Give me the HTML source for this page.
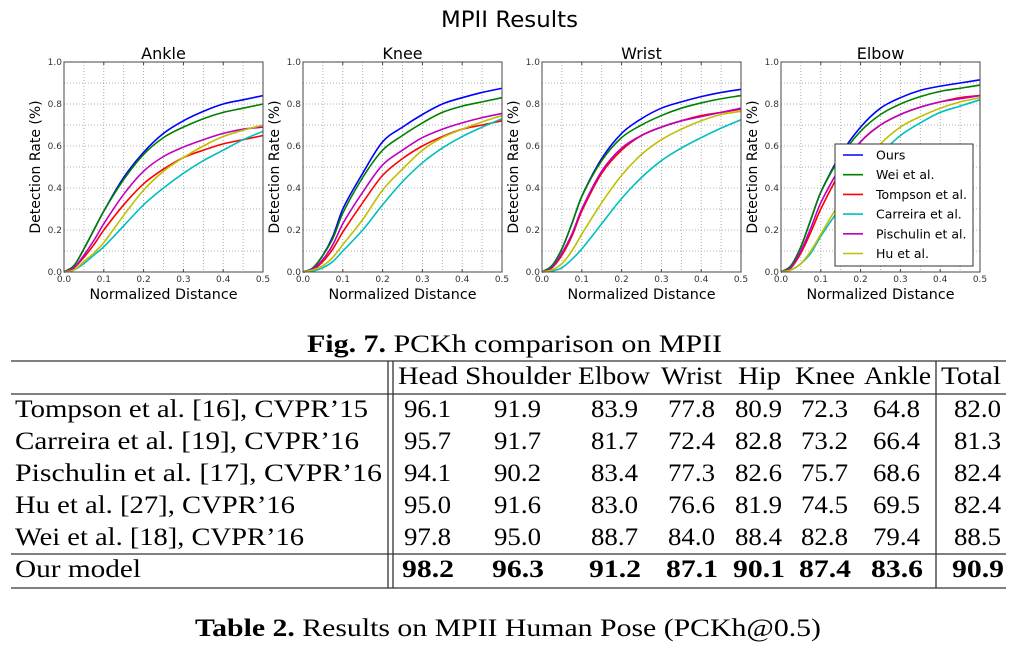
<!DOCTYPE html>
<html><head><meta charset="utf-8"><style>
body{margin:0;background:#fff;}
svg{display:block;}
.sans{font-family:"DejaVu Sans","Liberation Sans",sans-serif;}
.serif{font-family:"Liberation Serif",serif;}
</style></head><body>
<svg id="fig" width="1018" height="650" viewBox="0 0 1018 650" xmlns="http://www.w3.org/2000/svg">
<text class="sans" x="441" y="27" font-size="22" textLength="137" lengthAdjust="spacingAndGlyphs">MPII Results</text>
<g id="charts"></g>
<g id="legend">
<rect x="835" y="144" width="138" height="122" fill="#fff" stroke="#333" stroke-width="1"/>
</g>
<text class="serif" x="307" y="352" font-size="25" textLength="415" lengthAdjust="spacingAndGlyphs"><tspan font-weight="bold">Fig. 7.</tspan> PCKh comparison on MPII</text>
<text class="serif" x="195" y="636" font-size="25" textLength="626" lengthAdjust="spacingAndGlyphs"><tspan font-weight="bold">Table 2.</tspan> Results on MPII Human Pose (PCKh@0.5)</text>
<g id="table" stroke="#333" stroke-width="1.3">
<line x1="11" y1="361" x2="1006" y2="361"/>
<line x1="11" y1="394" x2="1006" y2="394"/>
<line x1="11" y1="554" x2="1006" y2="554"/>
<line x1="11" y1="588" x2="1006" y2="588"/>
<line x1="388" y1="361" x2="388" y2="588"/>
<line x1="393" y1="361" x2="393" y2="588"/>
<line x1="936" y1="361" x2="936" y2="588"/>
</g>
<g id="tabletext" class="serif" font-size="25"></g>
</svg>
<script>
const NS="http://www.w3.org/2000/svg";
const xs=[0,0.025,0.05,0.075,0.1,0.15,0.2,0.25,0.3,0.35,0.4,0.45,0.5];
const methods=["Ours","Wei et al.","Tompson et al.","Carreira et al.","Pischulin et al.","Hu et al."];
const colors=["#0000ff","#008000","#ff0000","#00bfbf","#bf00bf","#bfbf00"];
const joints=["Ankle","Knee","Wrist","Elbow"];
const ankleOurs=[0,0.03,0.11,0.2,0.29,0.45,0.57,0.66,0.72,0.765,0.80,0.82,0.84];
const ankleWei=[0,0.03,0.11,0.2,0.29,0.44,0.56,0.64,0.69,0.73,0.76,0.78,0.80];
const ankleTompson=[0,0.02,0.07,0.13,0.2,0.32,0.42,0.49,0.545,0.58,0.61,0.63,0.65];
const ankleCarreira=[0,0.01,0.04,0.08,0.12,0.22,0.32,0.40,0.47,0.53,0.58,0.63,0.67];
const anklePischulin=[0,0.02,0.08,0.15,0.23,0.37,0.48,0.55,0.595,0.63,0.66,0.68,0.69];
const ankleHu=[0,0.01,0.05,0.09,0.14,0.27,0.39,0.48,0.545,0.60,0.645,0.675,0.70];
const kneeOurs=[0,0.02,0.08,0.17,0.30,0.47,0.62,0.69,0.75,0.80,0.83,0.855,0.875];
const kneeWei=[0,0.02,0.08,0.16,0.28,0.45,0.58,0.65,0.71,0.76,0.79,0.81,0.83];
const kneeTompson=[0,0.01,0.05,0.11,0.19,0.33,0.46,0.54,0.60,0.645,0.68,0.70,0.72];
const kneeCarreira=[0,0.005,0.02,0.05,0.10,0.20,0.32,0.43,0.52,0.59,0.645,0.69,0.73];
const kneePischulin=[0,0.015,0.06,0.13,0.23,0.38,0.51,0.58,0.64,0.68,0.71,0.735,0.755];
const kneeHu=[0,0.01,0.03,0.07,0.13,0.25,0.39,0.49,0.58,0.64,0.68,0.715,0.745];
const wristOurs=[0,0.03,0.11,0.23,0.36,0.54,0.66,0.73,0.78,0.81,0.835,0.855,0.87];
const wristWei=[0,0.03,0.11,0.23,0.36,0.53,0.64,0.70,0.745,0.78,0.805,0.825,0.84];
const wristTompson=[0,0.02,0.08,0.17,0.29,0.47,0.58,0.65,0.69,0.72,0.745,0.76,0.775];
const wristCarreira=[0,0.005,0.02,0.06,0.11,0.23,0.35,0.45,0.53,0.59,0.64,0.685,0.725];
const wristPischulin=[0,0.02,0.09,0.18,0.30,0.48,0.59,0.65,0.69,0.72,0.74,0.76,0.78];
const wristHu=[0,0.01,0.04,0.10,0.18,0.33,0.46,0.56,0.63,0.68,0.72,0.75,0.765];
const elbowOurs=[0,0.03,0.12,0.25,0.38,0.56,0.69,0.78,0.83,0.865,0.885,0.90,0.915];
const elbowWei=[0,0.03,0.12,0.25,0.38,0.55,0.67,0.75,0.80,0.835,0.86,0.875,0.89];
const elbowTompson=[0,0.02,0.09,0.19,0.30,0.48,0.62,0.70,0.75,0.785,0.81,0.83,0.84];
const elbowCarreira=[0,0.01,0.04,0.09,0.17,0.31,0.45,0.56,0.65,0.71,0.76,0.79,0.82];
const elbowPischulin=[0,0.02,0.10,0.21,0.33,0.50,0.62,0.70,0.75,0.785,0.81,0.825,0.84];
const elbowHu=[0,0.01,0.04,0.10,0.18,0.34,0.50,0.61,0.69,0.74,0.78,0.81,0.83];
const xTicks=["0.0","0.1","0.2","0.3","0.4","0.5"];
const yTicks=["0.0","0.2","0.4","0.6","0.8","1.0"];
const tableHeader=["Head","Shoulder","Elbow","Wrist","Hip","Knee","Ankle","Total"];
const tableRows=["Tompson et al. [16], CVPR’15","Carreira et al. [19], CVPR’16","Pischulin et al. [17], CVPR’16","Hu et al. [27], CVPR’16","Wei et al. [18], CVPR’16","Our model"];
const tableVals=[
["96.1","91.9","83.9","77.8","80.9","72.3","64.8","82.0"],
["95.7","91.7","81.7","72.4","82.8","73.2","66.4","81.3"],
["94.1","90.2","83.4","77.3","82.6","75.7","68.6","82.4"],
["95.0","91.6","83.0","76.6","81.9","74.5","69.5","82.4"],
["97.8","95.0","88.7","84.0","88.4","82.8","79.4","88.5"],
["98.2","96.3","91.2","87.1","90.1","87.4","83.6","90.9"]];

const series={
Ankle:[ankleOurs,ankleWei,ankleTompson,ankleCarreira,anklePischulin,ankleHu],
Knee:[kneeOurs,kneeWei,kneeTompson,kneeCarreira,kneePischulin,kneeHu],
Wrist:[wristOurs,wristWei,wristTompson,wristCarreira,wristPischulin,wristHu],
Elbow:[elbowOurs,elbowWei,elbowTompson,elbowCarreira,elbowPischulin,elbowHu]};

function mk(tag,attrs,parent,text){const e=document.createElementNS(NS,tag);for(const k in attrs)e.setAttribute(k,attrs[k]);if(text!==undefined)e.textContent=text;parent.appendChild(e);return e;}
const chartsG=document.getElementById('charts');
const plotLeft0=64,plotStep=239,plotW=199,plotTop=62,plotH=210;
joints.forEach((j,ci)=>{
  const L=plotLeft0+ci*plotStep;
  const sx=v=>L+v/0.5*plotW, sy=v=>plotTop+plotH-v*plotH;
  const g=mk('g',{},chartsG);
  
  
  for(let k=1;k<10;k++){const x=sx(k*0.05);mk('line',{x1:x,y1:plotTop,x2:x,y2:plotTop+plotH,stroke:'#999','stroke-dasharray':'1,2','stroke-width':0.8},g);}
  for(let k=1;k<10;k++){const y=sy(k*0.1);mk('line',{x1:L,y1:y,x2:L+plotW,y2:y,stroke:'#999','stroke-dasharray':'1,2','stroke-width':0.8},g);}
  series[j].forEach((arr,si)=>{
    const n=xs.length;
    const m=xs.map((x,i)=>{
      const a=Math.max(0,i-1),b=Math.min(n-1,i+1);
      return (arr[b]-arr[a])/(xs[b]-xs[a]);
    });
    let d='M'+sx(xs[0])+','+sy(arr[0]);
    for(let i=0;i<n-1;i++){
      const dx=xs[i+1]-xs[i];
      const c1x=xs[i]+dx/3,c1y=arr[i]+m[i]*dx/3;
      const c2x=xs[i+1]-dx/3,c2y=arr[i+1]-m[i+1]*dx/3;
      d+=' C'+sx(c1x)+','+sy(c1y)+' '+sx(c2x)+','+sy(c2y)+' '+sx(xs[i+1])+','+sy(arr[i+1]);
    }
    const p=mk('path',{d:d,fill:'none',stroke:colors[si],'stroke-width':1.6},g);
    
    
  });
  mk('rect',{x:L,y:plotTop,width:plotW,height:plotH,fill:'none',stroke:'#444','stroke-width':1},g);
  xTicks.forEach(t=>{const x=sx(parseFloat(t));
    mk('line',{x1:x,y1:plotTop+plotH,x2:x,y2:plotTop+plotH-3,stroke:'#444'},g);mk('line',{x1:x,y1:plotTop,x2:x,y2:plotTop+3,stroke:'#444'},g);
    const tx=mk('text',{x:x,y:282,'font-size':9,'text-anchor':'middle',class:'sans',fill:'#333'},g,t);
    
    });
  yTicks.forEach(t=>{const y=sy(parseFloat(t));
    const tx=mk('text',{x:L-2,y:y+3,'font-size':9,'text-anchor':'end',class:'sans',fill:'#333'},g,t);
    
    });
  const tt=mk('text',{x:L+plotW/2,y:59,'font-size':16,'text-anchor':'middle',class:'sans'},g,j);
  
  
  const xl=mk('text',{x:L+plotW/2,y:299,'font-size':14,'text-anchor':'middle',class:'sans',textLength:148,lengthAdjust:'spacingAndGlyphs'},g,'Normalized Distance');
  
  
  const yl=mk('text',{x:0,y:0,'font-size':14,'text-anchor':'middle',class:'sans',transform:'translate('+(L-24)+','+(plotTop+plotH/2)+') rotate(-90)'},g,'Detection Rate (%)');
  
  
});
const lg=document.getElementById('legend');
methods.forEach((m,i)=>{
  const y=155+i*19.7;
  const e=mk('g',{},lg);
  
  
  mk('line',{x1:843,y1:y,x2:863,y2:y,stroke:colors[i],'stroke-width':1.6},e);
  mk('text',{x:876,y:y+4.5,'font-size':12.5,class:'sans'},e,m);
});
const tt=document.getElementById('tabletext');
const hdrX=[[398,60],[465,106],[578,72],[661,61],[738,43],[795,60],[864,67],[941,60]];
tableHeader.forEach((h,i)=>{const t=mk('text',{x:hdrX[i][0],y:384,textLength:hdrX[i][1],lengthAdjust:'spacingAndGlyphs'},tt,h);
  
  });
const valX=[404,494,591,668,735,801,873,954];
const rowY=[417,449,481,513,545,577];
const nameW=[353,344,367,280,289,126];
tableRows.forEach((r,ri)=>{
  const t=mk('text',{x:15,y:rowY[ri],textLength:nameW[ri],lengthAdjust:'spacingAndGlyphs'},tt,r);
  
  
  tableVals[ri].forEach((v,ci)=>{
    const c=mk('text',{x:valX[ci]-(ri==5?2:0),y:rowY[ri],textLength:ri==5?52:47,lengthAdjust:'spacingAndGlyphs'},tt,v);
    if(ri==5)c.setAttribute('font-weight','bold');
    
    
  });
});
</script>
</body></html>
